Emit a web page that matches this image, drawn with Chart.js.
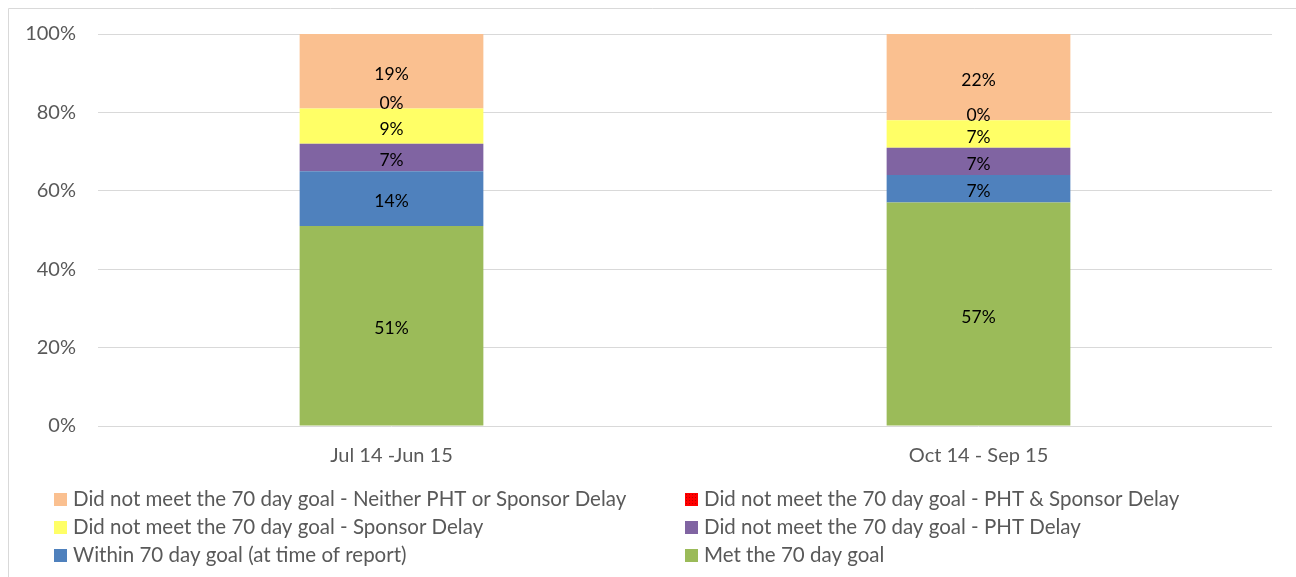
<!DOCTYPE html>
<html>
<head>
<meta charset="utf-8">
<script src="https://cdn.jsdelivr.net/npm/chart.js@4.4.1/dist/chart.umd.min.js"></script>
<style>
  html, body { margin: 0; padding: 0; background: #fff; }
  #wrap { position: relative; width: 1296px; height: 577px; }
</style>
</head>
<body>
<div id="wrap"><canvas id="chart" width="1296" height="577"></canvas></div>
<script>
// categories and series (percent of total)
const periods = ["Jul 14 -Jun 15", "Oct 14 - Sep 15"];

const metGoal       = [51, 57];
const withinGoal    = [14, 7];
const phtDelay      = [7, 7];
const sponsorDelay  = [9, 7];
const bothDelay     = [0, 0];
const neitherDelay  = [19, 22];

const yTicks = [0, 20, 40, 60, 80, 100];

const FONT = "Lato, 'Liberation Sans', sans-serif";
const GREY = "#595959";

// stacked bottom -> top
const series = [
    { label: "Met the 70 day goal", data: metGoal, color: "#9BBB59" },
    { label: "Within 70 day goal (at time of report)", data: withinGoal, color: "#4F81BD" },
    { label: "Did not meet the 70 day goal - PHT Delay", data: phtDelay, color: "#8064A2" },
    { label: "Did not meet the 70 day goal - Sponsor Delay", data: sponsorDelay, color: "#FFFF66" },
    { label: "Did not meet the 70 day goal - PHT & Sponsor Delay", data: bothDelay, color: "#FF0000" },
    { label: "Did not meet the 70 day goal - Neither PHT or Sponsor Delay", data: neitherDelay, color: "#FAC090" }
];

// value labels in the middle of each segment
const segmentLabels = {
    id: "segmentLabels",
    afterDatasetsDraw(chart) {
        const ctx = chart.ctx;
        ctx.save();
        ctx.font = "17.5px " + FONT;
        ctx.fillStyle = "#000";
        ctx.textAlign = "center";
        ctx.textBaseline = "middle";
        chart.data.datasets.forEach((ds, i) => {
            chart.getDatasetMeta(i).data.forEach((bar, j) => {
                let y = (bar.y + bar.base) / 2 + 3;
                if (ds.data[j] === 0) y -= 8;
                ctx.fillText(ds.data[j] + "%", bar.x, y);
            });
        });
        ctx.restore();
    }
};

// outer frame + two column legend like the original
const frameAndLegend = {
    id: "frameAndLegend",
    afterDraw(chart) {
        const ctx = chart.ctx;
        ctx.save();
        ctx.strokeStyle = "#d9d9d9";
        ctx.lineWidth = 1;
        ctx.beginPath();
        ctx.moveTo(8.5, 577);
        ctx.lineTo(8.5, 8.5);
        ctx.lineTo(1296, 8.5);
        ctx.stroke();

        const order = series.slice().reverse();
        const colX = [54, 685];
        const rowY = [499.5, 527.5, 555.5];
        ctx.font = "20.5px " + FONT;
        ctx.textBaseline = "middle";
        ctx.textAlign = "left";
        order.forEach((s, k) => {
            const x = colX[k % 2];
            const y = rowY[Math.floor(k / 2)];
            ctx.fillStyle = s.color;
            ctx.fillRect(x, y - 6.5, 13, 13);
            if (s.data === bothDelay) {
                // speckled pattern as in the original legend key
                ctx.fillStyle = "#c00000";
                for (let dx = 1; dx < 13; dx += 3) {
                    for (let dy = 1; dy < 13; dy += 3) {
                        ctx.fillRect(x + dx, y - 6.5 + dy, 1, 1);
                    }
                }
            }
            ctx.fillStyle = GREY;
            ctx.fillText(s.label, x + 19, y);
        });
        ctx.restore();
    }
};

new Chart(document.getElementById("chart"), {
    type: "bar",
    data: {
        labels: periods,
        datasets: series.map(s => ({
            label: s.label,
            data: s.data,
            backgroundColor: s.color,
            borderWidth: 0,
            barPercentage: 0.313,
            categoryPercentage: 1
        }))
    },
    options: {
        responsive: false,
        animation: false,
        layout: { padding: { left: 0, right: 24, top: 34, bottom: 106 } },
        plugins: {
            legend: { display: false },
            tooltip: { enabled: false }
        },
        scales: {
            x: {
                stacked: true,
                grid: { display: false },
                border: { display: false },
                ticks: { color: GREY, font: { size: 20, family: FONT }, padding: 10 },
                afterFit(axis) { axis.height = 45; }
            },
            y: {
                stacked: true,
                min: 0,
                max: 100,
                afterBuildTicks(axis) { axis.ticks = yTicks.map(v => ({ value: v })); },
                grid: { color: "#d9d9d9", lineWidth: 1, drawTicks: false },
                border: { display: false },
                ticks: {
                    color: GREY,
                    font: { size: 20, family: FONT },
                    padding: 22,
                    callback: v => v + "%"
                },
                afterFit(axis) { axis.width = 98; }
            }
        }
    },
    plugins: [segmentLabels, frameAndLegend]
});
</script>
</body>
</html>
